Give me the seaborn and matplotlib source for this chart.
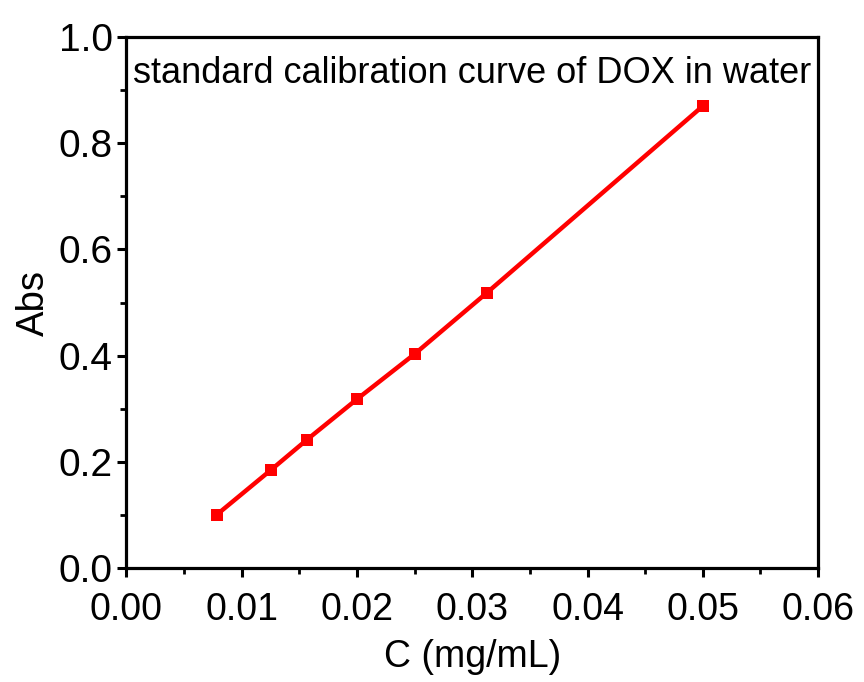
import matplotlib
matplotlib.use("Agg")
import matplotlib.pyplot as plt
from matplotlib.ticker import MultipleLocator, FormatStrFormatter
import seaborn as sns
import pandas as pd

# DOX standard solutions: concentration (mg/mL) and absorbance
conc = [0.0078125, 0.0125, 0.015625, 0.02, 0.025, 0.03125, 0.05]
absorbance = [0.100, 0.184, 0.241, 0.318, 0.403, 0.518, 0.870]
title_text = "standard calibration curve of DOX in water"
x_label = "C (mg/mL)"
y_label = "Abs"

df = pd.DataFrame({"C": conc, "Abs": absorbance})

sns.set_style("white")
plt.rcParams["font.family"] = ["Liberation Sans", "DejaVu Sans"]
plt.rcParams["text.color"] = "black"
plt.rcParams["axes.labelcolor"] = "black"
plt.rcParams["xtick.color"] = "black"
plt.rcParams["ytick.color"] = "black"

fig = plt.figure(figsize=(8.64, 6.82), dpi=100)
ax = fig.add_axes([0.1464, 0.1672, 0.8004, 0.7785])

sns.lineplot(data=df, x="C", y="Abs", ax=ax, color="#ff0000", linewidth=3.2,
             marker="s", markersize=8.5, markeredgewidth=0, markeredgecolor="#ff0000")

ax.set_xlim(0, 0.06)
ax.set_ylim(0, 1.0)
ax.xaxis.set_major_locator(MultipleLocator(0.01))
ax.xaxis.set_minor_locator(MultipleLocator(0.005))
ax.yaxis.set_major_locator(MultipleLocator(0.2))
ax.yaxis.set_minor_locator(MultipleLocator(0.1))
ax.xaxis.set_major_formatter(FormatStrFormatter("%.2f"))
ax.yaxis.set_major_formatter(FormatStrFormatter("%.1f"))

for s in ax.spines.values():
    s.set_visible(True)
    s.set_linewidth(2.3)
    s.set_color("black")

ax.tick_params(which="major", direction="out", length=6.5, width=2.2,
               color="black", labelcolor="black",
               bottom=True, left=True, top=False, right=False)
ax.tick_params(axis="x", which="major", pad=10.5, labelsize=27)
ax.tick_params(axis="y", which="major", pad=3.5, labelsize=28)
ax.tick_params(which="minor", direction="out", length=4, width=2.0,
               color="black", bottom=True, left=True, top=False, right=False)

ax.set_xlabel(x_label, fontsize=27, labelpad=8, color="black")
ax.set_ylabel(y_label, fontsize=27.5, labelpad=5, color="black")

ax.text(0.5, 0.965, title_text, transform=ax.transAxes, ha="center", va="top",
        fontsize=26, color="black")

fig.savefig("out.png", dpi=100, facecolor="white")
